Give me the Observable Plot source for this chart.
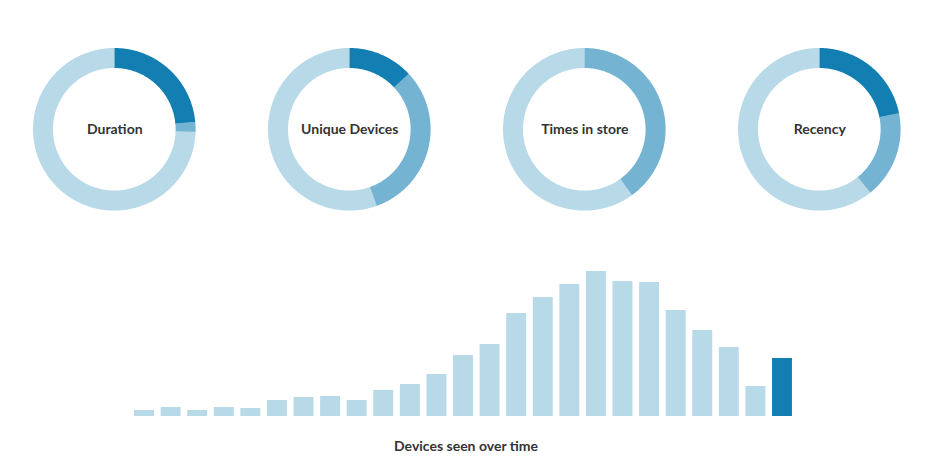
<!DOCTYPE html>
<html><head><meta charset="utf-8">
<script src="https://cdn.jsdelivr.net/npm/d3@7"></script>
<script src="https://cdn.jsdelivr.net/npm/@observablehq/plot@0.6"></script>
<style>
body{margin:0;background:#fff;font-family:Lato,"Open Sans",sans-serif;}
#wrap{width:936px;height:468px;overflow:hidden;position:relative;background:#fff;}
#donuts{display:flex;width:940px;height:240px;}
#donuts svg{display:block;flex:none;}
#bars svg{display:block;}
#caption{margin-top:16px;width:936px;box-sizing:border-box;padding-right:4px;text-align:center;font:bold 14px Lato,sans-serif;line-height:20px;color:#333;}
</style></head><body>
<div id="wrap"><div id="donuts"></div><div id="bars"></div><div id="caption">Devices seen over time</div></div>
<script>
// ---- data ----
const metrics = ["Duration", "Unique Devices", "Times in store", "Recency"];
const levels = ["high", "medium", "low"];
const levelColors = ["#127eb1", "#74b3d1", "#b8d9e8"];
const durationShares = [23.5, 2, 74.5];
const uniqueDevicesShares = [13, 31.5, 55.5];
const timesInStoreShares = [0, 40, 60];
const recencyShares = [21.8, 17.4, 60.8];
const metricShares = [durationShares, uniqueDevicesShares, timesInStoreShares, recencyShares];

const periods = d3.range(1, 26).map(String);
const devicesSeen = [6, 9, 6, 9, 8, 16, 19, 20, 16, 26, 32, 42, 61, 72, 103, 119, 132, 145, 135, 134, 106, 86, 69, 30, 58];
const periodKind = devicesSeen.map((d, i) => i === devicesSeen.length - 1 ? "current" : "past");

// ---- donuts ----
const R_OUT = 81.3, R_IN = 61.3;
const OVERLAP = Math.PI / 360; // tiny overlap to hide anti-aliasing seams
function arcPoints(values) {
  const total = d3.sum(values);
  const pts = [];
  let start = 0;
  values.forEach((v, i) => {
    const a0 = start / total * 2 * Math.PI;
    let a1 = (start + v) / total * 2 * Math.PI;
    start += v;
    if (v <= 0) return;
    if (start < total) a1 += OVERLAP;
    const n = Math.max(2, Math.ceil((a1 - a0) / (Math.PI / 360)));
    for (let k = 0; k <= n; k++) pts.push({level: levels[i], angle: a0 + (a1 - a0) * k / n});
  });
  return pts;
}
const donutHost = document.getElementById("donuts");
metrics.forEach((name, m) => {
  const pts = arcPoints(metricShares[m]);
  const chart = Plot.plot({
    width: 235, height: 240,
    margin: 0,
    x: {domain: [-114.3, 120.7], axis: null},
    y: {domain: [-110.7, 129.3], axis: null},
    color: {type: "ordinal", domain: levels, range: levelColors},
    marks: [
      Plot.area(pts, {
        x1: d => R_OUT * Math.sin(d.angle),
        y1: d => R_OUT * Math.cos(d.angle),
        x2: d => R_IN * Math.sin(d.angle),
        y2: d => R_IN * Math.cos(d.angle),
        z: "level", fill: "level"
      }),
      Plot.text([name], {x: () => 0, y: () => 0, text: d => d, fontSize: 14, fontWeight: "bold",
        fontFamily: "Lato, sans-serif", fill: "#333", textAnchor: "middle", lineAnchor: "middle"})
    ]
  });
  donutHost.appendChild(chart);
});

// ---- bars ----
const bars = Plot.plot({
  width: 936, height: 180,
  marginTop: 31, marginBottom: 4, marginLeft: 127.4, marginRight: 137.4,
  x: {type: "band", domain: periods, padding: 0.25, round: false, axis: null},
  y: {domain: [0, 145], axis: null},
  color: {type: "ordinal", domain: ["past", "current"], range: ["#b8d9e8", "#127eb1"]},
  marks: [
    Plot.barY(devicesSeen, {x: (d, i) => periods[i], y: d => d, fill: (d, i) => periodKind[i]})
  ]
});
document.getElementById("bars").appendChild(bars);
</script>
</body></html>
